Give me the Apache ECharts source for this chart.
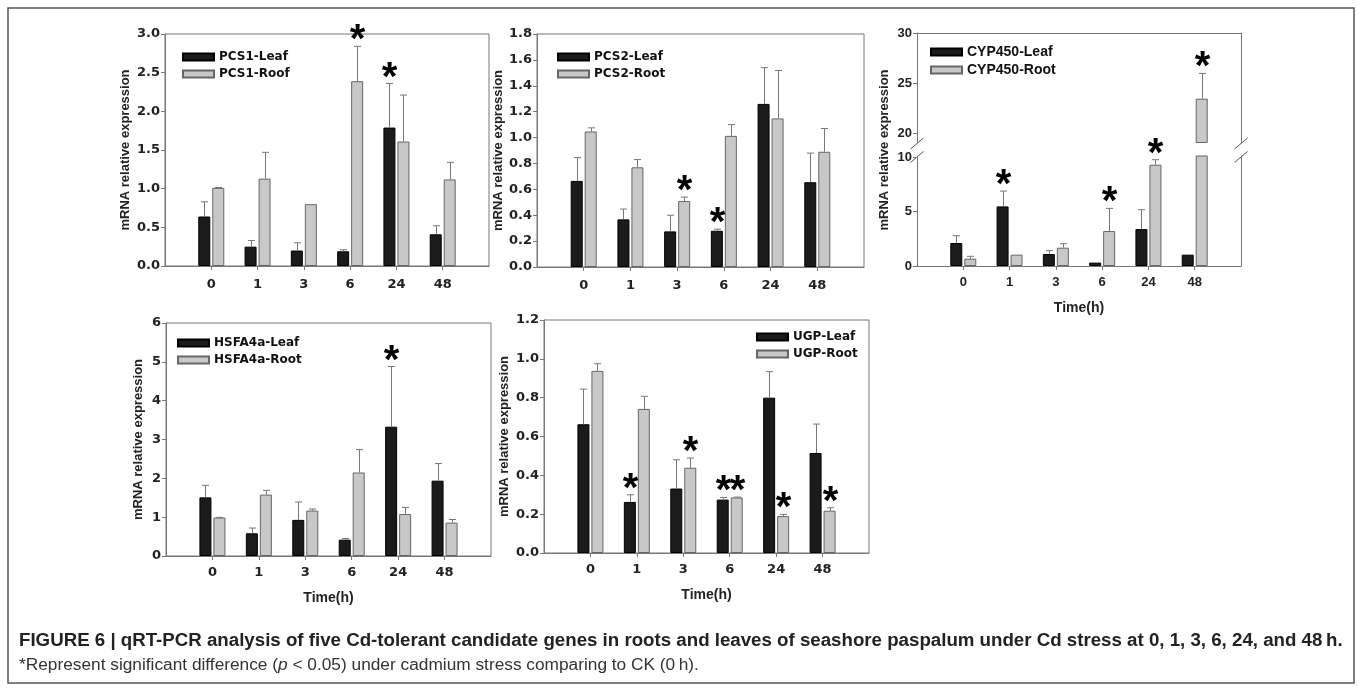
<!DOCTYPE html>
<html>
<head>
<meta charset="utf-8">
<script src="https://cdn.jsdelivr.net/npm/echarts@6/dist/echarts.min.js"></script>
<style>
  html, body { margin: 0; padding: 0; background: #fff; }
  #chart { width: 1358px; height: 691px; }
</style>
</head>
<body>
<div id="chart"></div>
<script>
// time points (h)
const categories = ['0', '1', '3', '6', '24', '48'];

// PCS1
const pcs1Leaf = [0.64, 0.25, 0.20, 0.19, 1.79, 0.41];
const pcs1LeafSd = [0.19, 0.08, 0.10, 0.02, 0.57, 0.11];
const pcs1LeafSig = [0, 0, 0, 0, 1, 0];
const pcs1Root = [1.01, 1.13, 0.80, 2.39, 1.61, 1.12];
const pcs1RootSd = [0.005, 0.34, 0, 0.45, 0.60, 0.22];
const pcs1RootSig = [0, 0, 0, 1, 0, 0];

// PCS2
const pcs2Leaf = [0.665, 0.368, 0.275, 0.28, 1.26, 0.655];
const pcs2LeafSd = [0.18, 0.08, 0.125, 0.012, 0.28, 0.225];
const pcs2LeafSig = [0, 0, 0, 1, 0, 0];
const pcs2Root = [1.047, 0.77, 0.51, 1.013, 1.148, 0.89];
const pcs2RootSd = [0.028, 0.06, 0.03, 0.087, 0.37, 0.18];
const pcs2RootSig = [0, 0, 1, 0, 0, 0];

// CYP450 (broken axis)
const cypLeaf = [2.11, 5.47, 1.10, 0.31, 3.39, 1.04];
const cypLeafSd = [0.67, 1.41, 0.31, 0, 1.78, 0];
const cypLeafSig = [0, 1, 0, 0, 0, 0];
const cypRoot = [0.67, 1.04, 1.68, 3.21, 9.30, 23.43];
const cypRootSd = [0.22, 0, 0.37, 2.08, 0.46, 2.53];
const cypRootSig = [0, 0, 0, 1, 1, 1];

// HSFA4a
const hsfLeaf = [1.51, 0.585, 0.93, 0.42, 3.33, 1.94];
const hsfLeafSd = [0.31, 0.135, 0.46, 0.03, 1.55, 0.44];
const hsfLeafSig = [0, 0, 0, 0, 1, 0];
const hsfRoot = [0.99, 1.58, 1.17, 2.15, 1.08, 0.86];
const hsfRootSd = [0.005, 0.11, 0.04, 0.59, 0.17, 0.08];
const hsfRootSig = [0, 0, 0, 0, 0, 0];

// UGP
const ugpLeaf = [0.663, 0.263, 0.332, 0.275, 0.80, 0.515];
const ugpLeafSd = [0.181, 0.037, 0.148, 0.011, 0.134, 0.149];
const ugpLeafSig = [0, 1, 0, 1, 0, 0];
const ugpRoot = [0.938, 0.742, 0.439, 0.286, 0.19, 0.218];
const ugpRootSd = [0.037, 0.065, 0.05, 0.002, 0.009, 0.015];
const ugpRootSig = [0, 0, 1, 1, 1, 1];

const GRAY = '#777';
const LEAF = { color: '#1b1b1b', borderColor: '#000', borderWidth: 1 };
const ROOT = { color: '#c8c8c8', borderColor: '#666', borderWidth: 1 };
const BAR_W = 12, BAR_GAP = 2;
const DX = (BAR_W + BAR_GAP) / 2;

// one empty slot each side so the groups sit in from the box edges
const axisCats = [''].concat(categories, [' ']);
const pad = a => [null].concat(a, [null]);

const grids = [], xAxes = [], yAxes = [], series = [], legends = [], graphics = [];

function errRender(dx) {
  return function (params, api) {
    const c = api.value(0), m = api.value(1), sd = api.value(2), sig = api.value(3);
    const p0 = api.coord([c, m]);
    const p1 = api.coord([c, m + sd]);
    const cs = params.coordSys;
    if (p0[1] < cs.y - 1 || p0[1] > cs.y + cs.height + 1) return;
    const x = Math.round(p0[0] + dx) + 0.5;
    const kids = [];
    if (sd > 0) {
      kids.push({ type: 'line', shape: { x1: x, y1: p0[1], x2: x, y2: p1[1] }, style: { stroke: GRAY, lineWidth: 1 } });
      kids.push({ type: 'line', shape: { x1: x - 3.5, y1: p1[1], x2: x + 3.5, y2: p1[1] }, style: { stroke: GRAY, lineWidth: 1 } });
    }
    if (sig) {
      kids.push({ type: 'text', x: x, y: p1[1] - 5,
        style: { text: '*', fill: '#000', font: 'bold 40px "Liberation Sans"', align: 'center', verticalAlign: 'middle' } });
    }
    return { type: 'group', children: kids };
  };
}

function catAxis(gi, o) {
  xAxes.push({
    type: 'category', gridIndex: gi, data: axisCats, boundaryGap: false,
    position: o.top ? 'top' : 'bottom',
    axisLine: { show: true, lineStyle: { color: GRAY } },
    axisTick: { show: !o.top, length: 4, lineStyle: { color: GRAY }, interval: (i, v) => v.trim() !== '' },
    axisLabel: { show: !o.top, interval: 0, margin: o.margin || 10, color: '#222',
      fontFamily: o.font, fontWeight: 'bold', fontSize: 13 },
    name: o.name || '', nameLocation: 'middle', nameGap: 35,
    nameTextStyle: { fontFamily: 'Liberation Sans', fontWeight: 'bold', fontSize: 14, color: '#222' },
    splitLine: { show: false }
  });
  return xAxes.length - 1;
}

function valAxis(gi, o) {
  yAxes.push({
    type: 'value', gridIndex: gi, min: o.min, max: o.max, interval: o.interval,
    startValue: o.startValue,
    position: o.right ? 'right' : 'left',
    axisLine: { show: true, lineStyle: { color: GRAY } },
    axisTick: { show: !o.right, length: 4, lineStyle: { color: GRAY }, customValues: o.ticks },
    axisLabel: { show: !o.right, margin: 5, color: '#222', fontFamily: o.font, fontWeight: 'bold', fontSize: 13,
      customValues: o.ticks, formatter: v => v.toFixed(o.dec || 0) },
    name: o.name || '', nameLocation: 'middle', nameGap: o.nameGap || 30,
    nameTextStyle: { fontFamily: 'Liberation Sans', fontWeight: 'bold', fontSize: 13, color: '#222' },
    splitLine: { show: false }
  });
  return yAxes.length - 1;
}

function addSeries(xi, yi, p) {
  series.push({ type: 'bar', name: p.leafName, xAxisIndex: xi, yAxisIndex: yi, data: pad(p.leaf),
    barWidth: BAR_W, barGap: (BAR_GAP / BAR_W * 100).toFixed(1) + '%', itemStyle: LEAF, silent: true });
  series.push({ type: 'bar', name: p.rootName, xAxisIndex: xi, yAxisIndex: yi, data: pad(p.root),
    barWidth: BAR_W, itemStyle: ROOT, silent: true });
  series.push({ type: 'custom', xAxisIndex: xi, yAxisIndex: yi, z: 5, silent: true,
    encode: { x: 0, y: 1 }, renderItem: errRender(-DX),
    data: p.leaf.map((v, i) => [i + 1, v, p.leafSd[i], p.leafSig[i]]) });
  series.push({ type: 'custom', xAxisIndex: xi, yAxisIndex: yi, z: 5, silent: true,
    encode: { x: 0, y: 1 }, renderItem: errRender(DX),
    data: p.root.map((v, i) => [i + 1, v, p.rootSd[i], p.rootSig[i]]) });
}

function addLegend(p) {
  legends.push({
    orient: 'vertical', left: p.legend[0], top: p.legend[1], padding: 0,
    itemWidth: 31, itemHeight: 7, itemGap: p.legendGap || 3, icon: 'rect',
    data: [p.leafName, p.rootName], selectedMode: false,
    textStyle: { fontFamily: p.font, fontWeight: 'bold', fontSize: p.legendSize || 12, lineHeight: p.legendLine || 14, color: '#111' }
  });
}

function addPanel(p) {
  grids.push({ left: p.box[0], top: p.box[1], width: p.box[2], height: p.box[3],
    show: true, borderColor: GRAY, borderWidth: 1, backgroundColor: 'transparent' });
  const gi = grids.length - 1;
  const xi = catAxis(gi, { font: p.font, name: p.xName, margin: p.labelMargin });
  const yi = valAxis(gi, { min: 0, max: p.max, interval: p.interval, dec: p.dec, font: p.font,
    name: 'mRNA relative expression', nameGap: p.nameGap });
  addSeries(xi, yi, p);
  addLegend(p);
}

addPanel({ box: [165, 34, 324, 232], max: 3, interval: 0.5, dec: 1, font: 'DejaVu Sans', nameGap: 33, labelMargin: 12,
  leafName: 'PCS1-Leaf', rootName: 'PCS1-Roof', legend: [182, 50],
  leaf: pcs1Leaf, leafSd: pcs1LeafSd, leafSig: pcs1LeafSig, root: pcs1Root, rootSd: pcs1RootSd, rootSig: pcs1RootSig });

addPanel({ box: [537, 34, 327, 233], max: 1.8, interval: 0.2, dec: 1, font: 'DejaVu Sans', nameGap: 25, labelMargin: 12,
  leafName: 'PCS2-Leaf', rootName: 'PCS2-Root', legend: [557, 50],
  leaf: pcs2Leaf, leafSd: pcs2LeafSd, leafSig: pcs2LeafSig, root: pcs2Root, rootSd: pcs2RootSd, rootSig: pcs2RootSig });

addPanel({ box: [166, 323, 325, 233], max: 6, interval: 1, dec: 0, font: 'DejaVu Sans', nameGap: 21, xName: 'Time(h)',
  leafName: 'HSFA4a-Leaf', rootName: 'HSFA4a-Root', legend: [177, 336],
  leaf: hsfLeaf, leafSd: hsfLeafSd, leafSig: hsfLeafSig, root: hsfRoot, rootSd: hsfRootSd, rootSig: hsfRootSig });

addPanel({ box: [544, 320, 325, 233], max: 1.2, interval: 0.2, dec: 1, font: 'DejaVu Sans', nameGap: 33, xName: 'Time(h)',
  leafName: 'UGP-Leaf', rootName: 'UGP-Root', legend: [756, 330],
  leaf: ugpLeaf, leafSd: ugpLeafSd, leafSig: ugpLeafSig, root: ugpRoot, rootSd: ugpRootSd, rootSig: ugpRootSig });

// CYP450: two stacked grids make the broken y axis
const cyp = { font: 'Liberation Sans', leafName: 'CYP450-Leaf', rootName: 'CYP450-Root',
  legend: [930, 44], legendSize: 14, legendLine: 16, legendGap: 2,
  leaf: cypLeaf, leafSd: cypLeafSd, leafSig: cypLeafSig, root: cypRoot, rootSd: cypRootSd, rootSig: cypRootSig };
const cypLeft = 917, cypWidth = 324;
grids.push({ left: cypLeft, top: 33, width: cypWidth, height: 110 });
const gUp = grids.length - 1;
grids.push({ left: cypLeft, top: 156, width: cypWidth, height: 110 });
const gLo = grids.length - 1;
const xUp = catAxis(gUp, { top: true, font: cyp.font });
const yUp = valAxis(gUp, { min: 19, max: 30, startValue: 19, ticks: [20, 25, 30], font: cyp.font });
valAxis(gUp, { min: 19, max: 30, right: true });
const xLo = catAxis(gLo, { font: cyp.font, name: 'Time(h)' });
const yLo = valAxis(gLo, { min: 0, max: 10.1, ticks: [0, 5, 10], font: cyp.font });
valAxis(gLo, { min: 0, max: 10.1, right: true });
addSeries(xUp, yUp, cyp);
addSeries(xLo, yLo, cyp);
addLegend(cyp);

graphics.push({ type: 'text', x: 884, y: 150, rotation: Math.PI / 2,
  style: { text: 'mRNA relative expression', font: 'bold 13px "Liberation Sans"', fill: '#222', align: 'center', verticalAlign: 'middle' } });
[cypLeft, cypLeft + cypWidth].forEach(x => {
  [143.5, 157].forEach(y => {
    graphics.push({ type: 'line', shape: { x1: x - 6.5, y1: y + 5.5, x2: x + 6.5, y2: y - 5.5 }, style: { stroke: '#555', lineWidth: 1 } });
  });
});
// outer figure frame
graphics.push({ type: 'rect', shape: { x: 8, y: 8, width: 1346, height: 675 }, style: { fill: 'none', stroke: '#555', lineWidth: 1.5 } });

const chart = echarts.init(document.getElementById('chart'));
chart.setOption({
  animation: false,
  backgroundColor: '#fff',
  title: [
    { text: 'FIGURE 6 | qRT-PCR analysis of five Cd-tolerant candidate genes in roots and leaves of seashore paspalum under Cd stress at 0, 1, 3, 6, 24, and 48\u2009h.',
      left: 19, top: 631, padding: 0,
      textStyle: { fontFamily: 'Liberation Sans', fontWeight: 'bold', fontSize: 18.7, color: '#222' } },
    { text: '*Represent significant difference ({i|p} < 0.05) under cadmium stress comparing to CK (0\u2009h).',
      left: 19, top: 657, padding: 0,
      textStyle: { fontFamily: 'Liberation Sans', fontWeight: 'normal', fontSize: 17.3, color: '#333',
        rich: { i: { fontFamily: 'Liberation Sans', fontStyle: 'italic', fontSize: 17.3, color: '#333' } } } }
  ],
  legend: legends,
  grid: grids,
  xAxis: xAxes,
  yAxis: yAxes,
  series: series,
  graphic: graphics
});
</script>
</body>
</html>
